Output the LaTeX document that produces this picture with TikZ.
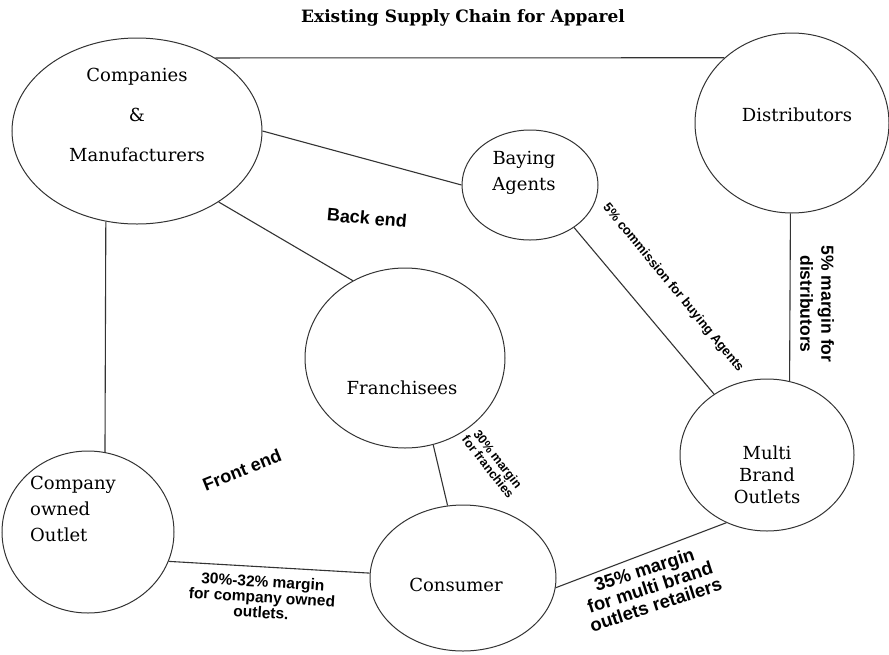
\documentclass[tikz,border=0pt]{standalone}
\usepackage{fontspec}
\newfontfamily\nodefont{DejaVu Serif}
\newfontfamily\notefont{Liberation Sans}
\usetikzlibrary{shapes.geometric}
\tikzset{
  % kretsar
  ell/.style={ellipse,draw=black!80,line width=1pt,inner sep=0pt},
  nm/.style={font=\nodefont\fontsize{18}{#1}\selectfont,align=center,inner sep=0pt},
  nm/.default=26,
  ln/.style={draw=black!80,line width=1.1pt},
  % marginaler
  mrg/.style={font=\notefont\bfseries\fontsize{#1}{#1}\selectfont,align=center,inner sep=0pt},
  mrg/.default=15.5,
}
\begin{document}
\begin{tikzpicture}[x=1pt,y=-1pt]
  \useasboundingbox (0,0) rectangle (889,654);
  \node[font=\nodefont\bfseries\fontsize{17}{19}\selectfont] (title) at (463,18) {Existing Supply Chain for Apparel};
  % ellipser
  \node[ell,minimum width=250pt,minimum height=186pt] (comp) at (137,131) {};
  \node[ell,minimum width=194pt,minimum height=180pt] (dist) at (792,123) {};
  \node[ell,minimum width=136pt,minimum height=110pt] (buy) at (530,185) {};
  \node[ell,minimum width=200pt,minimum height=180pt] (fran) at (405,358) {};
  \node[ell,minimum width=174pt,minimum height=152pt] (mb) at (767,455) {};
  \node[ell,minimum width=172pt,minimum height=162pt] (own) at (88,532) {};
  \node[ell,minimum width=186pt,minimum height=146pt] (cons) at (463,578) {};
  % namn
  \node[nm=40] (compt) at (137,115) {Companies\\\&\\Manufacturers};
  \node[nm] (distt) at (797,115) {Distributors};
  \node[nm] (buyt) at (524,173) {Baying\\Agents};
  \node[nm] (frant) at (402,388) {Franchisees};
  \node[nm=22] (mbt) at (767,475) {Multi\\Brand\\Outlets};
  \node[nm,align=left,anchor=west] (ownt) at (30,509) {Company\\owned\\Outlet};
  \node[nm] (const) at (456,585) {Consumer};
  % kanter
  \draw[ln] (comp.43) -- (dist.136);
  \draw[ln] (comp.east) -- (buy.west);
  \draw[ln] (comp.319) -- (fran.124);
  \draw[ln] (comp.251) -- (own.78);
  \draw[ln] (buy.316) -- (mb.131);
  \draw[ln] (dist.269) -- (mb.73);
  \draw[ln] (fran.288) -- (cons.102);
  \draw[ln] (own.340) -- (cons.177);
  \draw[ln] (cons.354) -- (mb.239);
  % etiketter
  \node[mrg=18,rotate=-5] (back) at (367,218) {Back end};
  \node[mrg=18,rotate=22] (front) at (242,470) {Front end};
  \node[mrg=13,rotate=-50.5] (cbuy) at (673,288) {5\% commission for buying Agents};
  \node[mrg=18,rotate=-90,font=\notefont\bfseries\fontsize{17.5}{21}\selectfont] (mdist) at (817,304) {5\% margin for\\distributors};
  \node[mrg=12.5,rotate=-52] (mfran) at (493,463) {30\% margin\\for franchies};
  \node[mrg=15.5,rotate=-3.5] (mown) at (262,597) {30\%-32\% margin\\for company owned\\outlets.};
  \node[mrg=18.5,rotate=18] (mmb) at (650,587) {35\% margin\\for multi brand\\outlets retailers};
\end{tikzpicture}
\end{document}
